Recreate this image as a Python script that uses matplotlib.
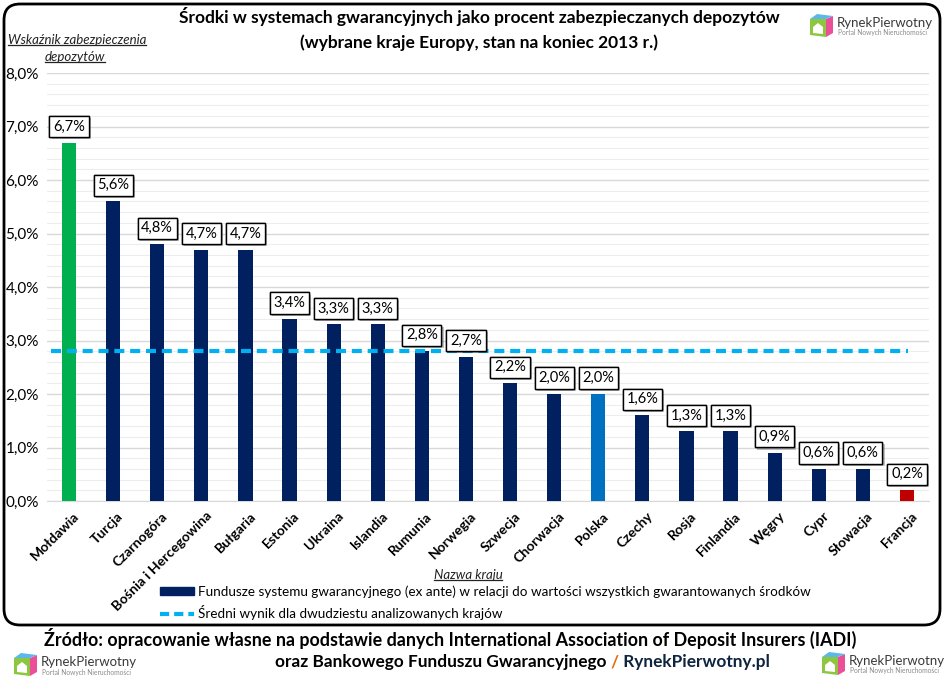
import matplotlib
matplotlib.use("Agg")
import matplotlib.pyplot as plt
import matplotlib.patches as mpatches
import matplotlib.transforms as mtransforms
from matplotlib.lines import Line2D
from matplotlib import patheffects
import numpy as np

countries = ["Mołdawia", "Turcja", "Czarnogóra", "Bośnia i Hercegowina", "Bułgaria",
             "Estonia", "Ukraina", "Islandia", "Rumunia", "Norwegia", "Szwecja",
             "Chorwacja", "Polska", "Czechy", "Rosja", "Finlandia", "Węgry", "Cypr",
             "Słowacja", "Francja"]
values = [6.7, 5.6, 4.8, 4.7, 4.7, 3.4, 3.3, 3.3, 2.8, 2.7, 2.2, 2.0, 2.0, 1.6, 1.3,
          1.3, 0.9, 0.6, 0.6, 0.2]
average = 2.8
ytick_vals = [0, 1, 2, 3, 4, 5, 6, 7, 8]
ytick_labels = ["0,0%", "1,0%", "2,0%", "3,0%", "4,0%", "5,0%", "6,0%", "7,0%", "8,0%"]

NAVY = "#002060"
special = {"Mołdawia": "#00B050", "Polska": "#0070C0", "Francja": "#C00000"}
colors = [special.get(c, NAVY) for c in countries]

FONT = "Lato"
plt.rcParams["font.family"] = [FONT, "DejaVu Sans"]

W, H = 945, 679
fig = plt.figure(figsize=(W / 100, H / 100), dpi=100)
fig.patch.set_facecolor("white")

# axes in pixel layout
ax_l, ax_r, ax_top, ax_bot = 47, 929, 73, 501
ax = fig.add_axes([ax_l / W, 1 - ax_bot / H, (ax_r - ax_l) / W, (ax_bot - ax_top) / H])
ax.set_facecolor("white")

x = np.arange(len(countries))
ax.bar(x, values, width=0.32, color=colors, zorder=3)
ax.axhline(average, xmin=0.004, xmax=0.976, color="#00B0F0", lw=3,
           dashes=(2.4, 1.4), zorder=4)

ax.set_xlim(-0.5, len(countries) - 0.5)
ax.set_ylim(0, 8)
ax.set_yticks(ytick_vals)
ax.set_yticklabels(ytick_labels, fontsize=11, family=[FONT, "DejaVu Sans"])
ax.set_yticks(np.arange(0, 8.01, 0.2), minor=True)
ax.grid(axis="y", which="major", color="#D9D9D9", lw=1.0, zorder=0)
ax.grid(axis="y", which="minor", color="#EDEDED", lw=0.8, zorder=0)
ax.tick_params(axis="both", which="both", length=0)
ax.tick_params(axis="y", pad=6)
for s in ["left", "right", "top"]:
    ax.spines[s].set_visible(False)
ax.spines["bottom"].set_color("#D9D9D9")

ax.set_xticks(x)
ax.set_xticklabels(countries, rotation=45, ha="right", rotation_mode="anchor",
                   fontsize=10, fontweight="bold")
off = mtransforms.ScaledTranslation(4 / 100, -4 / 100, fig.dpi_scale_trans)
for lab in ax.get_xticklabels():
    lab.set_transform(lab.get_transform() + off)

# value labels
for xi, v in zip(x, values):
    t = ax.annotate(f"{v:.1f}%".replace(".", ","), (xi, v), xytext=(0, 6.5),
                    textcoords="offset points", ha="center", va="bottom",
                    fontsize=10.5, zorder=6,
                    bbox=dict(boxstyle="square,pad=0.25", fc="white", ec="black", lw=1.0))
    t.get_bbox_patch().set_path_effects(
        [patheffects.withSimplePatchShadow(offset=(1.5, -1.5), alpha=0.35), patheffects.Normal()])

# title
fig.text(479 / W, 1 - 17 / H, "Środki w systemach gwarancyjnych jako procent zabezpieczanych depozytów",
         ha="center", va="center", fontsize=12.5, fontweight="bold")
fig.text(479 / W, 1 - 43 / H, "(wybrane kraje Europy, stan na koniec 2013 r.)",
         ha="center", va="center", fontsize=12.5, fontweight="bold")

# axis titles (italic underlined)
under = []
under.append(fig.text(77 / W, 1 - 40 / H, "Wskaźnik zabezpieczenia", ha="center", va="center",
                      fontsize=9.5, style="italic", color="#222222"))
under.append(fig.text(75 / W, 1 - 57 / H, "depozytów", ha="center", va="center",
                      fontsize=9.5, style="italic", color="#222222"))
under.append(fig.text(468 / W, 1 - 575 / H, "Nazwa kraju", ha="center", va="center",
                      fontsize=9.5, style="italic", color="#222222"))

# legend
handles = [mpatches.Patch(color=NAVY),
           Line2D([0], [0], color="#00B0F0", lw=3, dashes=(2.2, 1.2))]
labels = ["Fundusze systemu gwarancyjnego (ex ante) w relacji do wartości wszystkich gwarantowanych środków",
          "Średni wynik dla dwudziestu analizowanych krajów"]
leg = fig.legend(handles, labels, loc="upper left", bbox_to_anchor=(160 / W, 1 - 585 / H),
                 frameon=False, fontsize=9.7, handlelength=2.5, handleheight=0.55,
                 handletextpad=0.3, labelspacing=0.55, borderpad=0, borderaxespad=0)

# border
border = mpatches.FancyBboxPatch((4, 54), 936, 621, boxstyle="round,pad=0,rounding_size=16",
                                 transform=mtransforms.IdentityTransform(),
                                 fc="none", ec="black", lw=2, zorder=10)
fig.patches.append(border)

# source text
fig.text(450 / W, 1 - 638 / H,
         "Źródło: opracowanie własne na podstawie danych International Association of Deposit Insurers (IADI)",
         ha="center", va="center", fontsize=12.9, fontweight="bold")
pieces = [("oraz Bankowego Funduszu Gwarancyjnego ", "black"), ("/", "#E46C0A"),
          (" RynekPierwotny.pl", "#0F243E")]
src_texts = []
for s, c in pieces:
    src_texts.append(fig.text(275 / W, 1 - 667 / H, s, ha="left", va="baseline",
                              fontsize=12.4, fontweight="bold", color=c))


def logo(xp, yp, scale=1.0):
    """xp, yp: top-left pixel position of logo."""
    tr = mtransforms.IdentityTransform()
    s = scale
    yb = H - yp
    # icon
    fig.patches.append(mpatches.Polygon([(xp, yb - 22 * s), (xp + 16 * s, yb - 24 * s),
                                         (xp + 16 * s, yb - 6 * s), (xp, yb - 6 * s)],
                                        closed=True, fc="#8DC63F", ec="none", transform=tr))
    fig.patches.append(mpatches.Polygon([(xp + 16 * s, yb - 24 * s), (xp + 23 * s, yb - 20 * s),
                                         (xp + 23 * s, yb - 3 * s), (xp + 16 * s, yb - 6 * s)],
                                        closed=True, fc="#EC4F9A", ec="none", transform=tr))
    fig.patches.append(mpatches.Polygon([(xp, yb - 6 * s), (xp + 16 * s, yb - 6 * s),
                                         (xp + 23 * s, yb - 3 * s), (xp + 7 * s, yb - 1 * s)],
                                        closed=True, fc="#5BB8E8", ec="none", transform=tr))
    fig.patches.append(mpatches.Polygon([(xp + 3 * s, yb - 20 * s), (xp + 3 * s, yb - 14 * s),
                                         (xp + 8 * s, yb - 10 * s), (xp + 13 * s, yb - 14 * s),
                                         (xp + 13 * s, yb - 21 * s)],
                                        closed=True, fc="white", ec="none", transform=tr))
    fig.text((xp + 27 * s) / W, (yb - 10 * s) / H, "RynekPierwotny", ha="left", va="center",
             fontsize=9.5 * s, color="#3A3A3A")
    fig.text((xp + 28 * s) / W, (yb - 20 * s) / H, "Portal Nowych Nieruchomości", ha="left",
             va="center", fontsize=4.8 * s, color="#8A8A8A")


logo(810, 13)
logo(14, 652)
logo(822, 651)

# layout dependent adjustments: underline, consecutive colored text
fig.canvas.draw()
r = fig.canvas.get_renderer()
for t in under:
    bb = t.get_window_extent(r)
    fig.lines.append(Line2D([bb.x0, bb.x1], [bb.y0 + 1, bb.y0 + 1], color="#222222", lw=0.9,
                            transform=mtransforms.IdentityTransform()))
xcur = 275
for t in src_texts:
    t.set_x(xcur / W)
    bb = t.get_window_extent(r)
    xcur += bb.width

fig.savefig("out.png", dpi=100)
